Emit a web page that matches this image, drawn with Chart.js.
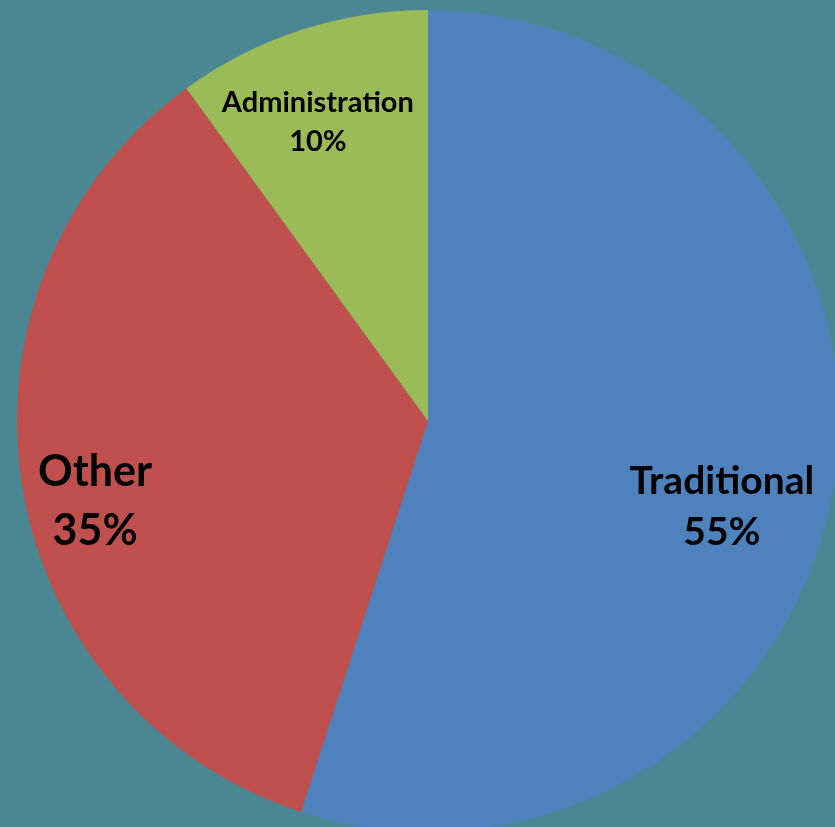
<!DOCTYPE html>
<html>
<head>
<meta charset="utf-8">
<script src="https://cdn.jsdelivr.net/npm/chart.js@4.4.0/dist/chart.umd.min.js"></script>
<style>
  html, body { margin: 0; padding: 0; background: #4A8793; overflow: hidden; width: 835px; height: 827px; }
  #wrap { position: absolute; left: 0; top: -7px; width: 856px; height: 856px; }
</style>
</head>
<body>
<div id="wrap"><canvas id="chart" width="856" height="856"></canvas></div>
<script>
var labels = ["Traditional", "Other", "Administration"];
var values = [55, 35, 10];
var colors = ["#4F81BD", "#C0504D", "#9BBB59"];

// label placement, in units of radius from the pie centre
var labelPos = [[0.715, 0.209], [-0.81, 0.197], [-0.268, -0.727]];
var labelFont = [39, 43, 29];
var labelGap = [51, 59, 39];

var pieLabels = {
    id: 'pieLabels',
    afterDatasetsDraw: function (chart) {
        var ctx = chart.ctx;
        var meta = chart.getDatasetMeta(0);
        var total = values.reduce(function (a, b) { return a + b; }, 0);
        meta.data.forEach(function (arc, i) {
            var x = arc.x + labelPos[i][0] * arc.outerRadius;
            var y = arc.y + labelPos[i][1] * arc.outerRadius;
            var pct = Math.round(values[i] / total * 100) + '%';
            ctx.save();
            ctx.fillStyle = '#000';
            ctx.textAlign = 'center';
            ctx.textBaseline = 'middle';
            ctx.font = 'bold ' + labelFont[i] + 'px Lato, "Open Sans", sans-serif';
            ctx.fillText(labels[i], x, y - labelGap[i] / 2);
            ctx.fillText(pct, x, y + labelGap[i] / 2);
            ctx.restore();
        });
    }
};

var ctx = document.getElementById("chart").getContext("2d");
var chart = new Chart(ctx, {
    type: 'pie',
    data: {
        labels: labels,
        datasets: [{
            data: values,
            backgroundColor: colors,
            borderWidth: 0
        }]
    },
    options: {
        responsive: false,
        animation: false,
        layout: { padding: 17 },
        plugins: {
            legend: { display: false },
            tooltip: { enabled: false }
        }
    },
    plugins: [pieLabels]
});
</script>
</body>
</html>
